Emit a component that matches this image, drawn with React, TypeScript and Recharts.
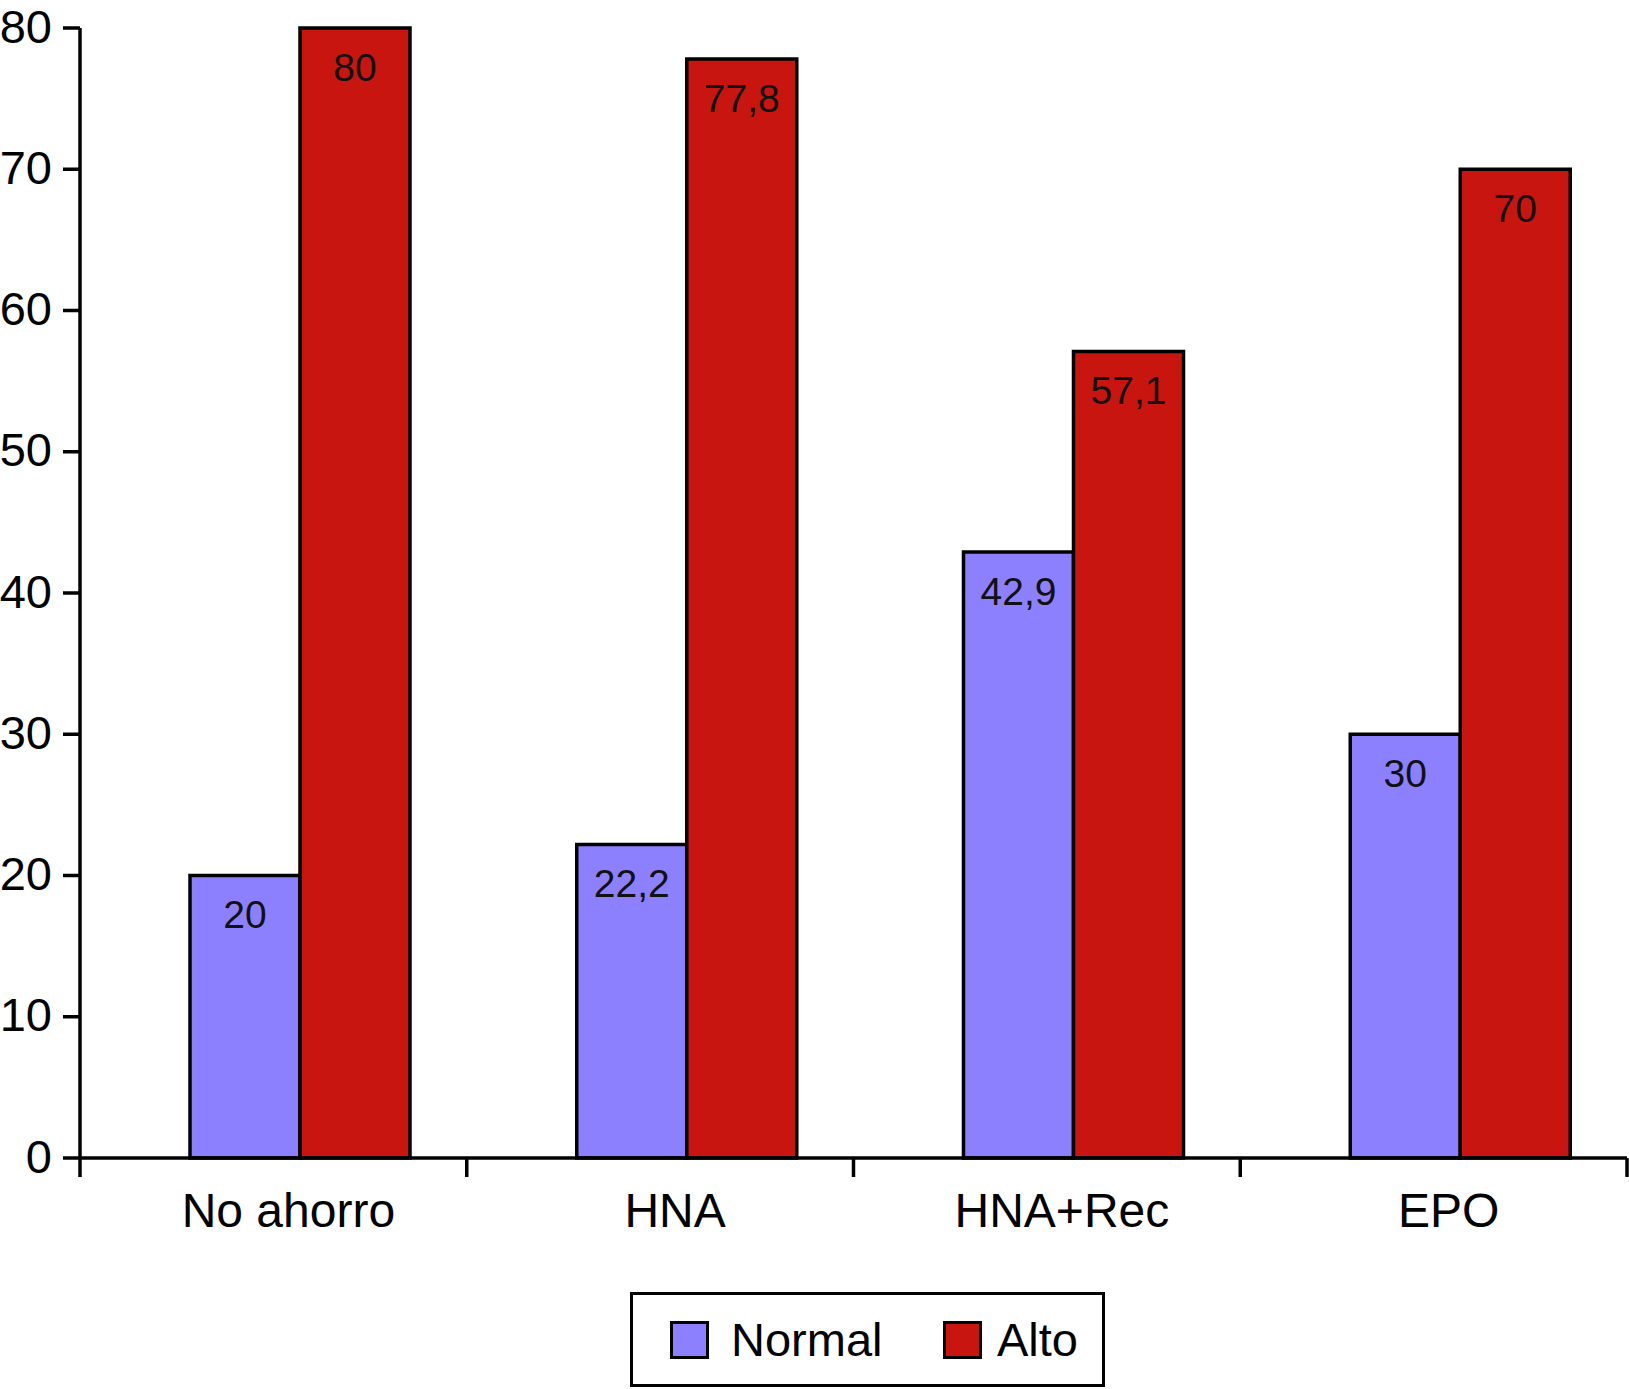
import * as React from 'react'
import { BarChart, Bar, XAxis, YAxis, LabelList } from 'recharts'

const categories = ['No ahorro', 'HNA', 'HNA+Rec', 'EPO']
const normalValues = [20, 22.2, 42.9, 30]
const altoValues = [80, 77.8, 57.1, 70]
const yTicks = [0, 10, 20, 30, 40, 50, 60, 70, 80]

const series = [
  { key: 'normal', name: 'Normal', color: '#8c80ff' },
  { key: 'alto', name: 'Alto', color: '#c8150f' },
]

const data = categories.map((name, i) => ({
  name,
  normal: normalValues[i],
  alto: altoValues[i],
}))

const fmt = (v: any) => String(v).replace('.', ',')

// tick marks on the boundaries between categories instead of at their centres
function BoundaryTick(props: any) {
  const { x, y, payload, index } = props
  const half = payload?.offset ?? 0
  const last = index === categories.length - 1
  return (
    <g>
      <line x1={x - half} x2={x - half} y1={y} y2={y + 19} stroke="#000" strokeWidth={3.5} />
      {last && <line x1={x + half} x2={x + half} y1={y} y2={y + 19} stroke="#000" strokeWidth={3.5} />}
    </g>
  )
}

export default function App() {
  return (
    <div style={{ position: 'relative', width: 1629, height: 1389, fontFamily: '"Liberation Sans", Arial, sans-serif', background: '#fff' }}>
      <style>{'body{margin:0}'}</style>
      <BarChart
        width={1629}
        height={1290}
        data={data}
        margin={{ top: 28, right: 2, bottom: 0, left: 0 }}
        barGap={0}
        barSize={110}
      >
        <XAxis
          xAxisId="a"
          dataKey="name"
          interval={0}
          tickSize={0}
          tickMargin={0}
          tickLine={false}
          tick={<BoundaryTick />}
          height={1}
          axisLine={{ stroke: '#000', strokeWidth: 3.5 }}
        />
        <XAxis
          xAxisId="b"
          dataKey="name"
          height={131}
          padding={{ left: 27, right: -27 }}
          axisLine={false}
          tickLine={false}
          tickSize={0}
          tickMargin={34}
          tick={{ fontSize: 48, fill: '#000', dx: -12 }}
          interval={0}
        />
        <YAxis
          width={80}
          domain={[0, 80]}
          ticks={yTicks}
          interval={0}
          tickSize={17}
          tickMargin={11}
          axisLine={{ stroke: '#000', strokeWidth: 3.5 }}
          tickLine={{ stroke: '#000', strokeWidth: 3.5 }}
          tick={{ fontSize: 47, fill: '#000', dy: -2 }}
        />
        {series.map(s => (
          <Bar
            key={s.key}
            xAxisId="b"
            dataKey={s.key}
            name={s.name}
            fill={s.color}
            stroke="#000"
            strokeWidth={3.5}
            isAnimationActive={false}
          >
            <LabelList
              dataKey={s.key}
              position="insideTop"
              offset={25}
              formatter={fmt}
              style={{ fontSize: 39, fill: '#111' }}
            />
          </Bar>
        ))}
      </BarChart>
      <div
        style={{
          position: 'absolute',
          left: 630,
          top: 1292,
          width: 475,
          height: 95,
          boxSizing: 'border-box',
          border: '3.5px solid #000',
          display: 'flex',
          alignItems: 'center',
          paddingLeft: 37,
          fontSize: 47,
          color: '#000',
        }}
      >
        {series.map((s, i) => (
          <div key={s.key} style={{ display: 'flex', alignItems: 'center', width: i === 0 ? 273 : 'auto' }}>
            <div style={{ width: 39, height: 38, boxSizing: 'border-box', background: s.color, border: '3.5px solid #000', marginRight: i === 0 ? 22 : 15 }} />
            <span style={{ lineHeight: 1 }}>{s.name}</span>
          </div>
        ))}
      </div>
    </div>
  )
}
